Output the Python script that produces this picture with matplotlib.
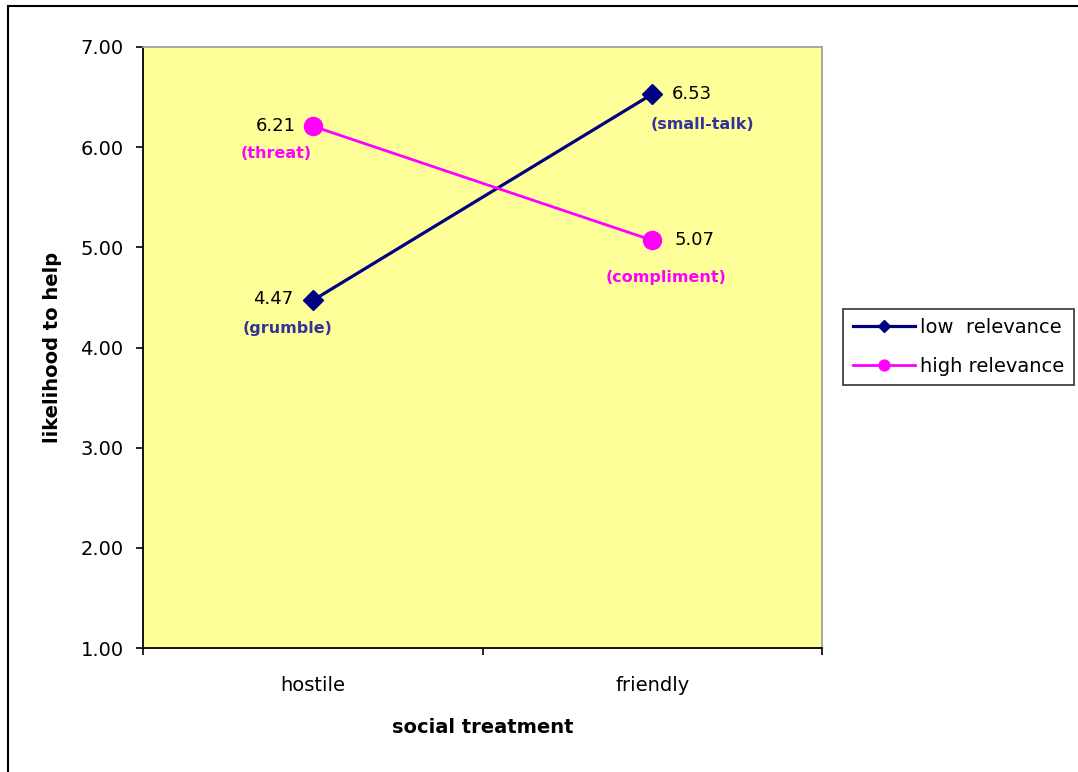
import matplotlib.pyplot as plt
from matplotlib.lines import Line2D
from matplotlib.ticker import FormatStrFormatter

plt.rcParams['font.family'] = ['DejaVu Sans']

# Means per condition
categories = ["hostile", "friendly"]
low_relevance = [4.47, 6.53]
high_relevance = [6.21, 5.07]
low_notes = ["(grumble)", "(small-talk)"]
high_notes = ["(threat)", "(compliment)"]

navy = "#000080"
magenta = "#FF00FF"
note_navy = "#333399"

fig = plt.figure(figsize=(10.78, 7.72), dpi=100)
ax = fig.add_axes([143 / 1078, 1 - 648 / 772, 679 / 1078, 601 / 772])
ax.set_facecolor("#FFFF99")

x = [0.5, 1.5]
ax.plot(x, low_relevance, color=navy, lw=2.3, marker="D", ms=10,
        label="low  relevance")
ax.plot(x, high_relevance, color=magenta, lw=2.0, marker="o", ms=13,
        label="high relevance")

# value labels and condition names next to each point
def label_point(xv, yv, dx, dy, nx, ny, note, note_color):
    ax.annotate(f"{yv:.2f}", (xv, yv), xytext=(dx, dy), textcoords="offset points",
                ha="right" if dx < 0 else "left", va="center", fontsize=13)
    ax.annotate(note, (xv, yv), xytext=(nx, ny), textcoords="offset points",
                ha="center", va="center", fontsize=11.5, fontweight="bold",
                color=note_color)

label_point(x[0], high_relevance[0], -12, 0, -26, -20, high_notes[0], magenta)
label_point(x[0], low_relevance[0], -14, 1, -18, -20, low_notes[0], note_navy)
label_point(x[1], low_relevance[1], 14, 0, 36, -22, low_notes[1], note_navy)
label_point(x[1], high_relevance[1], 16, 0, 10, -27, high_notes[1], magenta)

ax.set_xlim(0, 2)
ax.set_ylim(1, 7)
ax.set_yticks(range(1, 8))
ax.yaxis.set_major_formatter(FormatStrFormatter("%.2f"))
ax.set_xticks([0, 1, 2])
ax.set_xticklabels([])
ax.set_xticks(x, minor=True)
ax.set_xticklabels(categories, minor=True)
ax.tick_params(axis="x", which="minor", length=0, pad=20, labelsize=14)
ax.tick_params(axis="x", which="major", direction="out", length=5, width=1.2)
ax.tick_params(axis="y", direction="out", length=5, width=1.2, labelsize=14, pad=9)

for side in ["left", "bottom"]:
    ax.spines[side].set_color("black")
    ax.spines[side].set_linewidth(1.3)
for side in ["top", "right"]:
    ax.spines[side].set_color("#A0A0A0")
    ax.spines[side].set_linewidth(1.3)

ax.set_xlabel("social treatment", fontsize=14, fontweight="bold", labelpad=17)
ax.set_ylabel("likelihood to help", fontsize=14, fontweight="bold", labelpad=13)

leg = fig.legend(loc="center left", bbox_to_anchor=(843 / 1078, 1 - 347 / 772),
                 fontsize=14, frameon=True, fancybox=False, handlelength=3.2,
                 handletextpad=0.25, borderpad=0.5, labelspacing=1.0,
                 markerscale=0.6, borderaxespad=0)
leg.get_frame().set_edgecolor("black")
leg.get_frame().set_linewidth(1.2)

# outer chart border
fig.add_artist(Line2D([8 / 1078, 8 / 1078], [0, 1 - 6 / 772], color="black", lw=1.5))
fig.add_artist(Line2D([8 / 1078, 1], [1 - 6 / 772, 1 - 6 / 772], color="black", lw=1.5))

fig.savefig("out.png", dpi=100)
